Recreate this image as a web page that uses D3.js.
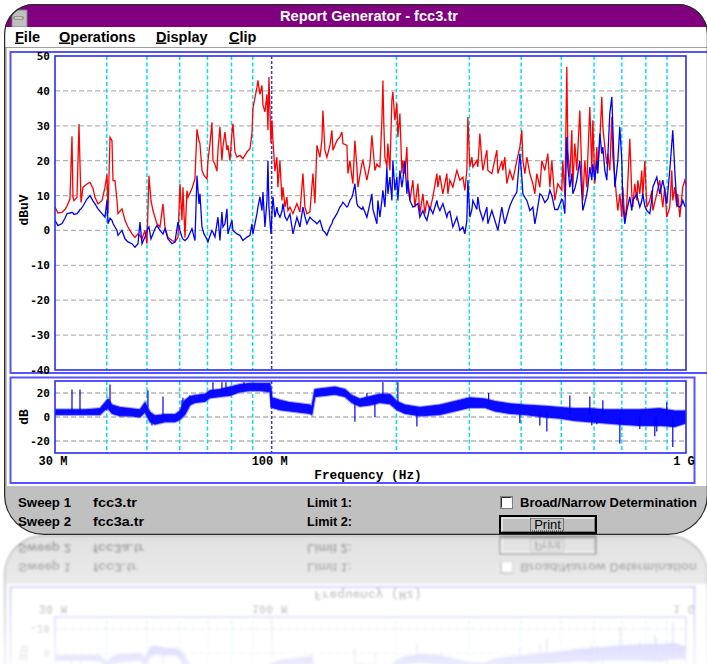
<!DOCTYPE html>
<html>
<head>
<meta charset="utf-8">
<script src="https://cdn.jsdelivr.net/npm/d3@7"></script>
<style>
  body { margin: 0; background: #fff; }
  svg { display: block; }
</style>
</head>
<body>
<svg id="canvas" width="707" height="664"></svg>
<script>
// sweep points (MHz) shared by both sweeps
const sweepFreq = [
  30.00, 30.50, 31.19, 31.71, 32.06, 32.60, 32.97, 33.15, 33.34, 33.90,
  34.28, 34.47, 34.67, 35.05, 35.84, 36.44, 37.05, 37.47, 38.10, 38.96,
  39.61, 40.05, 40.28, 40.73, 41.18, 41.41, 41.87, 42.34, 42.57, 43.53,
  44.26, 45.00, 46.02, 46.79, 47.58, 48.11, 48.65, 49.46, 50.01, 50.57,
  51.14, 51.71, 52.29, 52.87, 53.76, 54.67, 55.27, 56.20, 57.46, 58.43,
  59.41, 60.08, 60.75, 61.09, 61.77, 62.46, 62.81, 64.22, 65.30, 66.03,
  66.77,
  67.14, 67.89, 68.65, 69.80, 70.19, 70.98, 71.77, 72.17, 72.97, 73.79,
  74.20, 75.03, 75.86, 76.29, 77.14, 78.00, 78.44, 79.31, 80.20, 80.65,
  81.55, 82.46, 83.85, 85.26, 87.17, 88.64, 89.63, 90.13, 92.15, 92.66,
  93.70, 94.75, 95.27, 96.34, 97.42, 97.96, 98.51, 99.61, 100.16, 100.72,
  101.84, 102.98, 103.55, 104.71, 105.88, 106.47, 107.66, 108.86, 109.47, 110.69,
  112.56, 115.08, 117.02, 118.99, 120.31, 121.66, 123.70, 125.78, 127.18, 128.60,
  130.76, 132.23, 132.96, 134.45, 135.95, 138.24, 139.78, 140.56, 143.72, 146.14,
  147.77, 148.59, 151.93, 152.78, 154.48, 156.21, 157.08, 158.83, 160.61, 161.50,
  165.13, 166.05, 169.78, 172.63, 174.56, 175.53, 177.49, 179.47, 180.47, 182.49,
  184.53, 185.56, 186.59, 187.63, 189.73, 190.78, 192.92, 195.07, 196.16, 198.35,
  200.57, 201.68, 203.94, 206.22, 207.37, 209.68, 212.02, 213.20, 215.59, 219.21,
  221.66, 225.39, 227.91, 231.74, 234.32, 236.94, 240.92, 244.97, 250.47, 251.86,
  254.68, 258.96, 264.78, 266.25, 269.23,
  273.76, 279.90, 284.61, 289.40, 292.62, 295.89, 297.54, 300.87, 304.23, 305.93,
  312.79, 314.53, 318.05, 321.60, 323.40, 330.7, 332.5, 340.0, 349.6, 351.5,
  359.4, 361.4, 365.4, 369.5, 375.7, 382.0, 390.6, 397.2, 401.6, 403.9,
  408.4, 413.0, 419.9, 427.0, 431.7, 436.5, 443.9, 448.8, 456.4, 464.1,
  469.3, 474.5, 482.4, 490.5, 501.5, 504.3, 510.0, 515.7, 518.6, 524.4,
  530.2, 533.2, 539.1, 545.1, 554.3, 560.5, 563.6, 569.9, 576.3, 579.5,
  586.0, 592.5, 595.8, 602.5, 609.2, 612.6, 619.5, 626.4, 629.9, 636.9,
  644.0, 647.6, 654.8, 662.2, 665.9, 673.3, 680.8, 684.6, 692.3, 700.0,
  703.9, 711.7, 719.7, 731.8, 739.9, 744.1, 752.4, 760.8, 765.0, 773.6,
  782.2, 786.6, 795.4, 804.3, 817.8, 827.0, 831.6, 850.2, 864.5, 879.0,
  888.8, 898.7, 913.8, 924.1, 929.2, 939.6, 950.1, 955.4, 966.1, 976.9,
  982.3, 993.3, 1000
]

// Sweep 1 - fcc3.tr (red), dBuV
const sweep1Db = [
  6.7, 5.0, 5.2, 6.0, 7.0, 9.0, 27.0, 9.5, 8.5, 9.5,
  30.5, 19.0, 8.0, 12.4, 13.3, 13.8, 12.0, 9.5, 7.6, 8.6,
  12.4, 16.0, 4.8, 26.7, 25.7, 14.3, 14.3, 8.6, 4.8, 6.2,
  2.9, 1.0, -1.0, -2.0, -1.0, -1.5, -2.4, 0.0, -3.8, 15.7,
  8.6, 5.7, 3.8, 1.9, 1.0, 7.6, 1.0, -2.0, -2.9, -3.3,
  -2.0, 13.3, 2.9, 12.4, -2.0, 11.4, 9.5, 12.0, 14.8, 29.0,
  25.7,
  24.9, 17.2, 15.8, 14.8, 20.0, 24.9, 31.0, 20.0, 19.0, 17.0,
  23.0, 29.7, 20.0, 24.0, 28.2, 23.0, 24.4, 20.0, 27.8, 30.6,
  22.5, 21.0, 21.5, 20.6, 22.5, 23.4, 27.8, 35.0, 41.0, 43.0,
  39.0, 41.6, 36.0, 34.0, 39.0, 28.7, 44.0, 25.0, 31.6, 25.8,
  17.0, 21.0, 12.4, 20.0, 8.6, 12.4, 6.7, 9.6, 5.7, 6.7,
  4.8, 7.7, 5.3, 16.3, 6.7, 4.8, 5.3, 16.3, 7.7, 24.4,
  21.0, 25.8, 34.4, 23.0, 21.0, 24.4, 28.7, 23.0, 25.8, 26.8,
  28.2, 24.9, 24.4, 16.3, 20.0, 15.3, 13.4, 25.8, 18.2, 12.4,
  19.1, 20.0, 14.4, 19.0, 27.3, 23.9, 17.2, 19.0, 18.5, 18.2,
  31.6, 43.0, 29.7, 21.0, 18.2, 24.9, 17.2, 37.3, 39.7, 31.6,
  36.4, 26.8, 33.5, 16.3, 20.0, 16.3, 23.9, 13.4, 8.6, 14.4,
  6.7, 13.4, 4.8, 10.5, 4.8, 8.6, 5.7, 9.6, 16.3, 12.4,
  15.8, 10.5, 16.3, 10.5, 14.4,
  12.4, 17.2, 14.4, 15.3, 11.5, 17.2, 32.5, 18.2, 21.0, 18.2,
  20.0, 18.2, 27.8, 20.0, 17.2, 23.0, 17.2, 16.3, 23.0, 16.3,
  20.0, 17.2, 21.0, 13.4, 17.2, 14.4, 20.0, 23.9, 28.7, 20.0,
  16.3, 21.0, 16.3, 13.4, 10.5, 16.3, 12.4, 20.0, 17.2, 22.0,
  12.4, 20.0, 8.6, 13.4, 11.5, 20.0, 9.6, 46.9, 23.0, 15.3,
  28.7, 12.4, 24.9, 17.2, 34.4, 16.3, 8.6, 20.0, 12.4, 21.0,
  35.4, 17.2, 31.6, 13.4, 23.9, 18.2, 25.8, 38.3, 29.7, 23.9,
  19.0, 22.0, 17.2, 32.5, 21.0, 15.3, 8.6, 5.7, 10.5, 3.8,
  12.4, 2.9, 7.7, 26.3, 10.5, 6.7, 13.4, 8.6, 14.4, 10.5,
  17.2, 9.6, 20.0, 6.7, 8.6, 11.5, 5.7, 10.5, 14.4, 6.7,
  12.4, 3.8, 6.7, 17.2, 8.6, 12.4, 6.7, 10.5, 3.8, 9.6,
  12.4, 14.4, 13.0
]

// Sweep 2 - fcc3a.tr (blue), dBuV
const sweep2Db = [
  2.9, 1.4, 2.0, 3.5, 4.8, 5.0, 5.2, 5.0, 4.6, 4.8,
  5.5, 6.0, 6.2, 7.0, 9.0, 10.0, 8.5, 7.6, 6.2, 4.8,
  3.8, 8.6, 1.9, 3.5, 2.9, 2.0, 1.0, 0.0, -1.4, 0.0,
  -2.4, -3.3, -3.8, -4.8, -3.8, 2.4, -3.8, -1.9, 0.0, 1.0,
  -2.4, -1.0, 0.5, 1.4, 0.0, -1.0, 0.5, -2.4, -3.8, -3.3,
  2.4, 0.0, -1.9, -2.5, -2.9, -2.4, -2.0, 0.5, -2.9, 15.7,
  7.6,
  10.5, 1.0, -1.0, -2.5, -3.3, -1.5, 0.0, -0.5, -1.9, 2.0,
  3.8, -2.9, 5.3, 1.0, 1.9, 6.2, -1.0, 1.0, 2.9, 0.0,
  -0.5, -1.0, -1.4, -2.9, -1.9, -1.4, 1.9, -1.0, 4.8, 6.7,
  9.6, 5.7, 11.0, 1.0, 8.6, 20.0, 6.7, -1.0, 5.0, 9.6,
  3.8, 6.7, 5.0, 3.8, 5.5, 7.7, 4.0, 2.9, 3.5, 4.8,
  -1.0, 3.8, 1.0, 6.7, 4.0, 1.9, 3.8, 2.9, 2.5, 1.9,
  2.9, 1.0, 0.0, -0.5, -1.4, 1.0, 2.0, 2.9, 4.8, 6.7,
  7.5, 8.1, 6.7, 7.0, 8.6, 9.5, 10.5, 13.4, 7.7, 7.0,
  6.0, 6.7, 3.8, 7.7, 10.5, 6.2, 4.0, 1.9, 8.6, 3.8,
  8.6, 11.5, 9.0, 6.7, 18.2, 10.5, 15.3, 8.6, 20.0, 11.5,
  15.3, 8.6, 17.2, 12.4, 14.4, 20.0, 10.5, 14.4, 8.6, 6.7,
  7.0, 7.7, 3.8, 5.7, 4.0, 2.9, 6.7, 4.8, 8.6, 7.0,
  5.7, 7.7, 3.8, 5.0, 5.5,
  1.0, 3.8, 0.0, 1.0, -1.0, 2.9, 14.4, 3.8, 6.0, 8.6,
  6.0, 9.6, 5.7, 4.0, 2.9, 6.7, 1.9, 5.7, 1.0, 0.0,
  6.7, 5.0, 1.9, 4.0, 7.0, 9.0, 11.0, 22.0, 15.3, 10.5,
  9.5, 8.6, 5.7, 6.7, 1.9, 5.0, 10.5, 10.0, 8.0, 9.0,
  11.5, 10.0, 6.0, 6.0, 9.0, 8.6, 4.8, 26.8, 18.2, 12.4,
  16.3, 10.5, 12.0, 14.4, 20.0, 10.5, 5.7, 8.0, 10.5, 12.4,
  18.2, 14.4, 19.0, 14.4, 20.0, 16.3, 27.8, 22.0, 23.9, 17.2,
  14.4, 21.0, 33.5, 38.3, 29.7, 12.4, 17.2, 20.0, 29.7, 20.0,
  7.7, 1.9, 5.7, 9.6, 5.7, 8.6, 9.5, 10.5, 9.0, 6.7,
  8.5, 10.5, 7.0, 5.7, 4.8, 9.0, 12.4, 15.3, 10.5, 14.4,
  11.5, 7.7, 17.2, 24.9, 28.7, 17.2, 7.7, 7.0, 6.7, 7.5,
  8.6, 7.0, 6.7
]

// difference trace (dB): noise band read as low / high envelope
const diffFreq = [
  30.00, 32.60, 35.44, 38.53, 39.61, 40.28, 41.18, 43.05, 45.51, 48.11,
  49.46, 50.86, 52.29, 55.27, 58.43, 60.08, 61.77, 63.51, 65.30, 69.03,
  70.98, 75.03, 79.31, 83.85, 88.64, 93.70, 99.06, 100.16, 104.71, 110.69,
  117.02, 123.70, 125.06, 127.18, 134.45, 142.13, 150.25, 156.21, 163.31, 172.63,
  182.49, 192.92, 200.57, 209.68, 227.91, 254.68, 276.81, 300.87, 327.0, 345.7,
  375.7, 408.4, 456.4, 496.0, 539.1, 586.0, 636.9, 692.3, 773.6, 864.5,
  939.6, 1000
]
const diffLow = [
  2, 2, 2, 2, 6, 7, 3, 1, 1, 0,
  4, -4, -6, -4, -4, -2, 2, 10, 12, 13,
  16, 17, 18, 21, 22, 22, 21, 8, 6, 5,
  4, 3, 2, 17, 18, 19, 17, 12, 9, 10,
  12, 11, 6, 3, 1, 2, 5, 8, 8, 5,
  3, 2, 0, -1, -3, -4, -5, -6, -7, -7,
  -8, -5
]
const diffHigh = [
  6, 6, 6, 7, 12, 15, 10, 8, 7, 6,
  12, 4, 1, 2, 2, 5, 14, 17, 18, 19,
  22, 23, 25, 27, 28, 28, 28, 16, 14, 12,
  11, 10, 9, 23, 24, 25, 23, 18, 15, 17,
  19, 19, 13, 10, 8, 10, 13, 16, 15, 13,
  11, 10, 9, 8, 7, 7, 6, 6, 6, 7,
  5, 5
]
// single-point spikes on the difference trace
const spikeFreq = [32.97, 34.47, 40.73, 50.29, 51.42, 54.67, 60.75, 61.09, 62.46, 63.51,
  72.17, 75.86, 77.57, 85.73, 99.61, 158.83, 169.78, 177.49, 185.56, 201.68,
  224.14, 334.0, 397.2, 443.9, 461.5, 524.4, 586.0, 592.5, 609.2, 629.9,
  692.3, 773.6, 840.8, 850.2, 898.7, 929.2]
const spikeDb = [23, 23, 27, 22, -7, 17, 14, 16, 13, 18,
  29, 29, 29, 29, 8, -4, 20, 0, 29, 29,
  -8, 20, -5, -7, -12, 18, 17, -7, -6, 14,
  -22, -10, -16, -12, 12, -25]
const spikeBase = [4, 4, 6, 8, 0, 0, 2, 6, 8, 12,
  19, 20, 20, 24, 24, 15, 14, 15, 16, 10,
  5, 10, 4, 4, 4, 3, 2, 1, 1, 1,
  0, 0, 0, 0, 0, 0]

const mainTicks = [50, 40, 30, 20, 10, 0, -10, -20, -30, -40]
const diffTicks = [20, 0, -20]
const gridFreqs = [40, 50, 60, 70, 80, 90, 100, 200, 300, 400, 500, 600, 700, 800, 900]
const freqLabelValues = [30, 100, 1000]
const freqLabelText = ['30 M', '100 M', '1 G']
const menuItems = ['File', 'Operations', 'Display', 'Clip']
const menuX = [15, 59, 156, 229]

const svg = d3.select('#canvas')
const defs = svg.append('defs')

const winPath = 'M34,4 H678 A30,30 0 0 1 708,34 V495 A40,40 0 0 1 668,535 H44 A40,40 0 0 1 4,495 V34 A30,30 0 0 1 34,4 Z'

defs.append('clipPath').attr('id', 'winClip').append('path').attr('d', winPath)
defs.append('clipPath').attr('id', 'mainClip').append('rect')
    .attr('x', 55).attr('y', 56).attr('width', 631).attr('height', 314)
defs.append('clipPath').attr('id', 'diffClip').append('rect')
    .attr('x', 55).attr('y', 381).attr('width', 631).attr('height', 72)

let grad = defs.append('linearGradient').attr('id', 'fadeGrad')
    .attr('gradientUnits', 'userSpaceOnUse')
    .attr('x1', 0).attr('y1', 535).attr('x2', 0).attr('y2', 664)
grad.append('stop').attr('offset', 0).attr('stop-color', '#fff').attr('stop-opacity', 0.48)
grad.append('stop').attr('offset', 1).attr('stop-color', '#fff').attr('stop-opacity', 0.08)
defs.append('mask').attr('id', 'fade').attr('maskUnits', 'userSpaceOnUse')
    .attr('x', 0).attr('y', 535).attr('width', 707).attr('height', 129)
    .append('rect').attr('x', 0).attr('y', 535).attr('width', 707).attr('height', 129)
    .attr('fill', 'url(#fadeGrad)')
defs.append('filter').attr('id', 'soft')
    .append('feGaussianBlur').attr('stdDeviation', 0.8)

const xScale = d3.scaleLog().domain([30, 1000]).range([55, 686])
const yMain = d3.scaleLinear().domain([-40, 50]).range([370, 56])
const yDiff = d3.scaleLinear().domain([-30, 30]).range([453, 381])

const win = svg.append('g').attr('id', 'win').attr('clip-path', 'url(#winClip)')

// window body, title bar, menu
win.append('path').attr('d', winPath).attr('fill', '#c0c0c0')
win.append('rect').attr('x', 0).attr('y', 0).attr('width', 710).attr('height', 27).attr('fill', '#800080')
win.append('rect').attr('x', 12).attr('y', 10).attr('width', 15).attr('height', 17)
    .attr('fill', '#c0c0c0').attr('stroke', '#808080')
win.append('rect').attr('x', 14).attr('y', 17).attr('width', 9).attr('height', 2)
    .attr('fill', '#fff').attr('stroke', '#404040').attr('stroke-width', 0.6)
win.append('text').attr('x', 369).attr('y', 21).attr('text-anchor', 'middle')
    .attr('font-family', 'Liberation Sans, Arial, sans-serif').attr('font-weight', 'bold')
    .attr('font-size', 14).attr('fill', '#fff')
    .attr('textLength', 178).attr('lengthAdjust', 'spacingAndGlyphs')
    .text('Report Generator - fcc3.tr')

win.append('rect').attr('x', 0).attr('y', 27).attr('width', 710).attr('height', 20).attr('fill', '#fff')
menuItems.forEach((item, i) => {
    let t = win.append('text').attr('x', menuX[i]).attr('y', 41.5)
        .attr('font-family', 'Liberation Sans, Arial, sans-serif').attr('font-weight', 'bold')
        .attr('font-size', 14.5).attr('fill', '#000')
    t.append('tspan').attr('text-decoration', 'underline').text(item[0])
    t.append('tspan').text(item.slice(1))
})
win.append('line').attr('x1', 0).attr('x2', 710).attr('y1', 47.5).attr('y2', 47.5)
    .attr('stroke', '#a0a0a0')

// white client area with the two chart panels
win.append('rect').attr('x', 7).attr('y', 48).attr('width', 703).attr('height', 438).attr('fill', '#fff')
win.append('rect').attr('x', 10.5).attr('y', 52).attr('width', 700).attr('height', 321)
    .attr('fill', 'none').attr('stroke', '#5555ff').attr('stroke-width', 2)
win.append('rect').attr('x', 10.5).attr('y', 377.5).attr('width', 684).attr('height', 105.5)
    .attr('fill', 'none').attr('stroke', '#5555ff').attr('stroke-width', 2)

function drawGrid(yScale, ticks, top, bottom) {
    win.selectAll(null)
        .data(ticks.filter((t) => yScale(t) > top + 1 && yScale(t) < bottom - 1))
        .enter().append('line')
        .attr('x1', 55).attr('x2', 686)
        .attr('y1', (t) => yScale(t)).attr('y2', (t) => yScale(t))
        .attr('stroke', '#b4b4b4').attr('stroke-width', 1.3).attr('stroke-dasharray', '5,3')
    win.selectAll(null)
        .data(gridFreqs)
        .enter().append('line')
        .attr('x1', (f) => xScale(f)).attr('x2', (f) => xScale(f))
        .attr('y1', top).attr('y2', bottom)
        .attr('stroke', (f) => f === 100 ? '#3535ff' : '#00e0ff')
        .attr('stroke-width', 1.5)
        .attr('stroke-dasharray', (f) => f === 100 ? '3,2' : '4,2.5')
}

drawGrid(yMain, mainTicks, 56, 370)
drawGrid(yDiff, diffTicks, 381, 453)

// main traces
const sweepLine = d3.line()
    .x((d) => xScale(d[0]))
    .y((d) => yMain(d[1]))

let traces = win.append('g').attr('clip-path', 'url(#mainClip)')
traces.append('path').datum(d3.zip(sweepFreq, sweep1Db))
    .attr('d', sweepLine).attr('fill', 'none').attr('stroke', '#ff0000').attr('stroke-width', 1.3)
traces.append('path').datum(d3.zip(sweepFreq, sweep2Db))
    .attr('d', sweepLine).attr('fill', 'none').attr('stroke', '#0000ff').attr('stroke-width', 1.3)

// difference trace
const band = d3.area()
    .x((d) => xScale(d[0]))
    .y0((d) => yDiff(d[1]))
    .y1((d) => yDiff(d[2]))

let diffG = win.append('g').attr('clip-path', 'url(#diffClip)')
let bandData = d3.zip(diffFreq, diffLow, diffHigh)
diffG.append('path').datum(bandData)
    .attr('d', band).attr('fill', 'none').attr('stroke', '#5a5aff').attr('stroke-width', 3)
    .attr('stroke-opacity', 0.55)
diffG.append('path').datum(bandData)
    .attr('d', band).attr('fill', '#0a0aff').attr('stroke', '#0000ff').attr('stroke-width', 0.8)
diffG.selectAll(null)
    .data(d3.zip(spikeFreq, spikeDb, spikeBase))
    .enter().append('line')
    .attr('x1', (d) => xScale(d[0])).attr('x2', (d) => xScale(d[0]))
    .attr('y1', (d) => yDiff(d[2])).attr('y2', (d) => yDiff(d[1]))
    .attr('stroke', '#0000ff').attr('stroke-width', 1.2)

// plot borders
win.append('rect').attr('x', 55).attr('y', 56).attr('width', 631).attr('height', 314)
    .attr('fill', 'none').attr('stroke', '#2a2aff').attr('stroke-width', 1.6)
win.append('rect').attr('x', 55).attr('y', 381).attr('width', 631).attr('height', 72)
    .attr('fill', 'none').attr('stroke', '#2a2aff').attr('stroke-width', 1.6)

// axis labels
const tickFont = 'DejaVu Sans Mono, monospace'
const labelFont = 'Liberation Mono, Courier New, monospace'

win.selectAll(null).data(mainTicks).enter().append('text')
    .attr('x', 50).attr('y', (t) => yMain(t)).attr('dy', '0.36em')
    .attr('text-anchor', 'end').attr('font-family', tickFont).attr('font-weight', 'bold')
    .attr('font-size', 11).attr('fill', '#000')
    .text((t) => t)
win.selectAll(null).data(diffTicks).enter().append('text')
    .attr('x', 50).attr('y', (t) => yDiff(t)).attr('dy', '0.36em')
    .attr('text-anchor', 'end').attr('font-family', tickFont).attr('font-weight', 'bold')
    .attr('font-size', 11).attr('fill', '#000')
    .text((t) => t)

win.append('text').attr('transform', 'translate(28,210) rotate(-90)')
    .attr('text-anchor', 'middle').attr('font-family', labelFont).attr('font-weight', 'bold')
    .attr('font-size', 13).text('dBuV')
win.append('text').attr('transform', 'translate(28,417) rotate(-90)')
    .attr('text-anchor', 'middle').attr('font-family', labelFont).attr('font-weight', 'bold')
    .attr('font-size', 13).text('dB')

win.selectAll(null).data(d3.zip(freqLabelValues, freqLabelText)).enter().append('text')
    .attr('x', (d) => xScale(d[0]) - 2).attr('y', 464.5)
    .attr('text-anchor', 'middle').attr('font-family', labelFont).attr('font-weight', 'bold')
    .attr('font-size', 12).text((d) => d[1])
win.append('text').attr('x', 368).attr('y', 478.5).attr('text-anchor', 'middle')
    .attr('font-family', labelFont).attr('font-weight', 'bold').attr('font-size', 12.8)
    .text('Frequency (Hz)')

// status area
const uiFont = 'Liberation Sans, Arial, sans-serif'
function statusText(x, y, s, w) {
    win.append('text').attr('x', x).attr('y', y)
        .attr('font-family', uiFont).attr('font-weight', 'bold').attr('font-size', 12.5)
        .attr('textLength', w).attr('lengthAdjust', 'spacingAndGlyphs')
        .text(s)
}
statusText(18, 507, 'Sweep 1', 53)
statusText(93, 507, 'fcc3.tr', 44)
statusText(307, 507, 'Limit 1:', 45)
statusText(18, 525.5, 'Sweep 2', 53)
statusText(93, 525.5, 'fcc3a.tr', 51)
statusText(307, 525.5, 'Limit 2:', 45)
statusText(520, 507, 'Broad/Narrow Determination', 177)

// checkbox
win.append('rect').attr('x', 500.5).attr('y', 496.5).attr('width', 12).attr('height', 12)
    .attr('fill', '#fff').attr('stroke', '#808080')
win.append('path').attr('d', 'M501.5,507.5 V497.5 H511.5').attr('fill', 'none').attr('stroke', '#303030')

// Print button
win.append('rect').attr('x', 500).attr('y', 516).attr('width', 96).attr('height', 17)
    .attr('fill', '#c0c0c0').attr('stroke', '#000').attr('stroke-width', 2)
win.append('path').attr('d', 'M502,531 V518 H594').attr('fill', 'none').attr('stroke', '#fff')
win.append('path').attr('d', 'M502,531.5 H594.5 V518').attr('fill', 'none').attr('stroke', '#808080')
win.append('rect').attr('x', 530.5).attr('y', 518.5).attr('width', 33).attr('height', 12.5)
    .attr('fill', 'none').attr('stroke', '#000').attr('stroke-width', 0.8).attr('stroke-dasharray', '1,1')
win.append('text').attr('x', 547.5).attr('y', 529).attr('text-anchor', 'middle')
    .attr('font-family', uiFont).attr('font-size', 13).text('Print')

// window outline
win.append('path').attr('d', winPath).attr('fill', 'none')
    .attr('stroke', '#2a2a2a').attr('stroke-width', 2.5)

// mirrored reflection below the window
svg.append('g').attr('mask', 'url(#fade)')
    .append('g').attr('filter', 'url(#soft)')
    .append('use').attr('href', '#win')
    .attr('transform', 'translate(0,1070) scale(1,-1)')
</script>
</body>
</html>
